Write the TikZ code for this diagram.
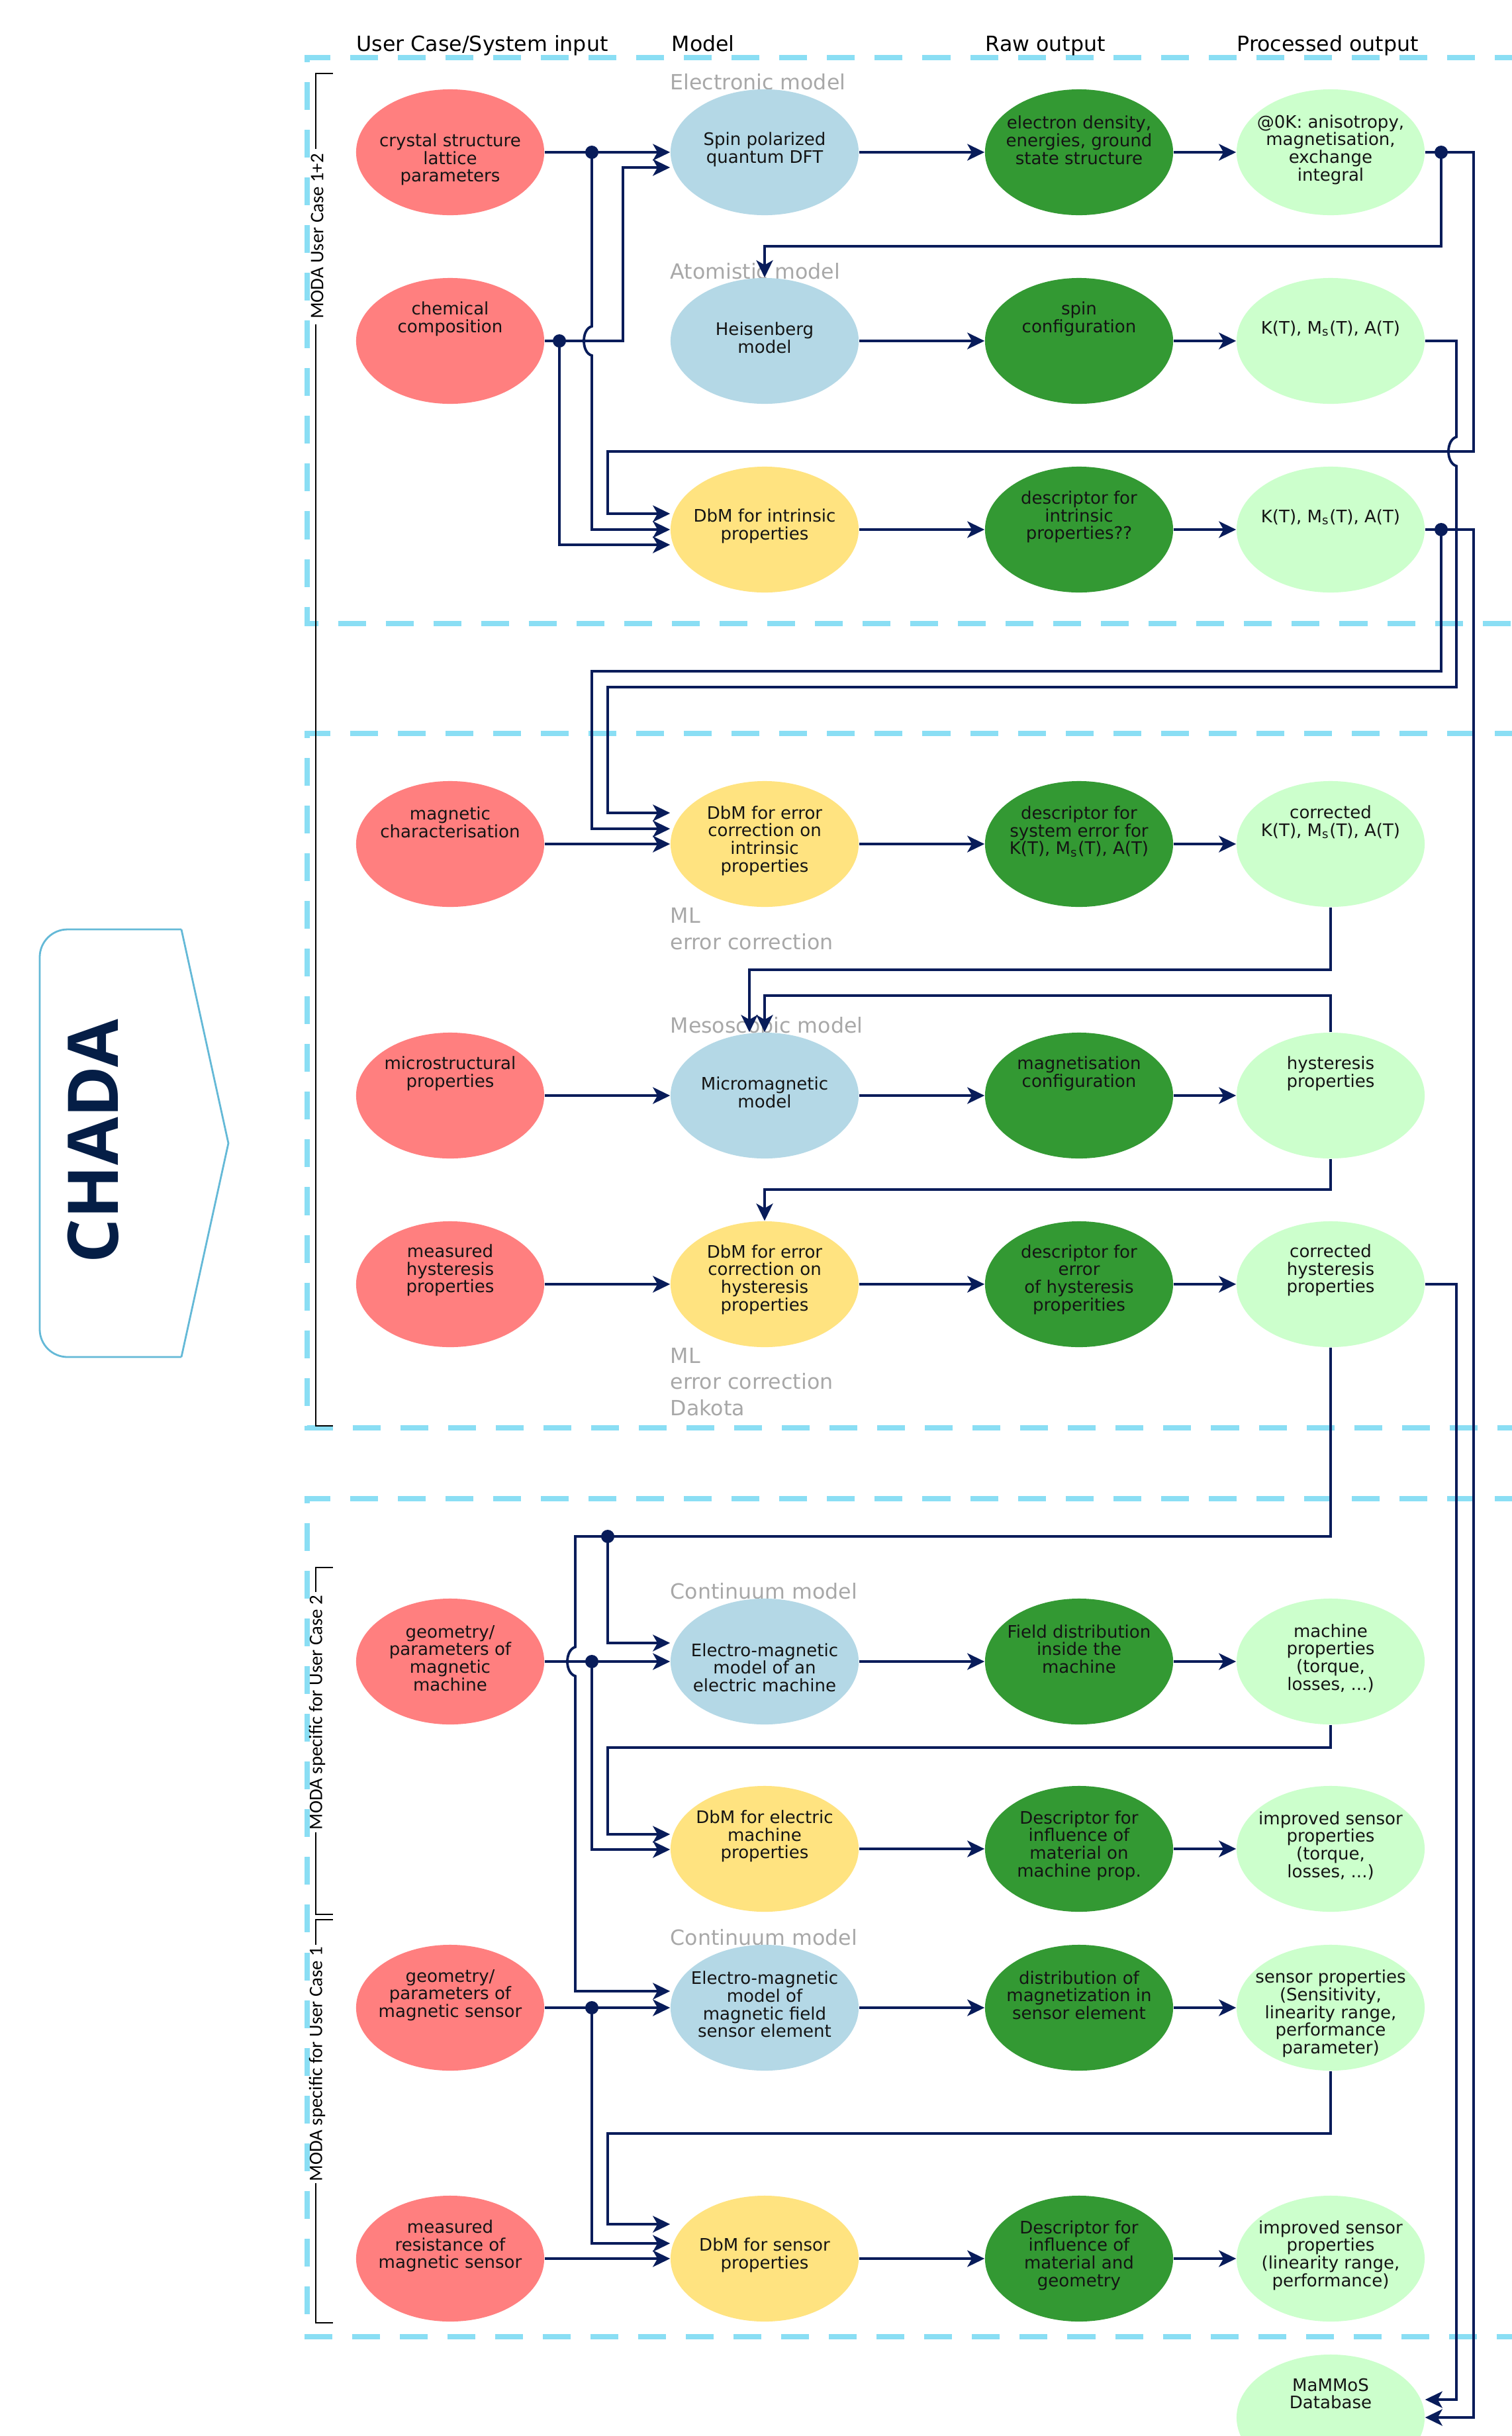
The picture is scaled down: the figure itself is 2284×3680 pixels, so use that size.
\documentclass[tikz,border=0pt]{standalone}
\usepackage{fontspec}
\setmainfont{DejaVu Sans}
\newfontfamily\carlito{Carlito}
\newfontfamily\opensans{Open Sans}
\usetikzlibrary{arrows.meta,shapes.geometric}
\definecolor{cred}{RGB}{255,127,127}
\definecolor{cblue}{RGB}{180,216,230}
\definecolor{cdg}{RGB}{51,153,51}
\definecolor{clg}{RGB}{204,255,204}
\definecolor{cyel}{RGB}{255,227,128}
\definecolor{cnavy}{RGB}{8,28,90}
\definecolor{cdash}{RGB}{138,222,244}
\definecolor{cgray}{RGB}{168,168,168}
\definecolor{ctext}{RGB}{20,20,20}
\definecolor{cchada}{RGB}{5,30,70}
\definecolor{cchadabox}{RGB}{100,185,215}
\newcommand\enode[6]{\node[#2] (#1) at (#3,#4) {}; \node[etext] (#1-t) at (#3,#4#5) {#6};}
\begin{document}
\begin{tikzpicture}[x=0.01cm,y=-0.01cm,
  ebase/.style={ellipse, minimum width=2.84cm, minimum height=1.90cm, inner sep=0pt, draw=none},
  ered/.style={ebase, fill=cred},
  eblue/.style={ebase, fill=cblue},
  edg/.style={ebase, fill=cdg},
  elg/.style={ebase, fill=clg},
  eyel/.style={ebase, fill=cyel},
  etext/.style={align=center, font=\fontsize{7.4pt}{7.6pt}\selectfont, text=ctext, inner sep=0pt},
  conn/.style={draw=cnavy, line width=0.038cm},
  arr/.style={conn, -{Stealth[length=0.26cm, width=0.25cm, inset=0.07cm]}},
  frame/.style={draw=cdash, line width=0.08cm, dash pattern=on 0.42cm off 0.30cm},
  br/.style={draw=black, line width=0.025cm},
  btext/.style={font=\carlito\fontsize{8.2pt}{9pt}\selectfont, rotate=90, inner sep=0pt},
  head/.style={font=\fontsize{9pt}{10pt}\selectfont, anchor=base west, inner sep=0pt},
  glab/.style={font=\fontsize{9pt}{10pt}\selectfont, text=cgray, anchor=base west, inner sep=0pt}
]
\useasboundingbox (0,0) rectangle (2284,3680);
\fill[white] (0,0) rectangle (2284,3680);

% dashed frames
\draw[frame] (2300,87) -- (464,87) -- (464,942) -- (2300,942);
\draw[frame] (2300,1108) -- (464,1108) -- (464,2157) -- (2300,2157);
\draw[frame] (2300,2264) -- (464,2264) -- (464,3530) -- (2300,3530);

% headers
\node[head] (h1) at (538,77) {User Case/System input};
\node[head] (h2) at (1014,77) {Model};
\node[head] (h3) at (1488,77) {Raw output};
\node[head] (h4) at (1868,77) {Processed output};

% brackets
\draw[br] (503,111) -- (477,111) -- (477,225);
\node[btext] (b1) at (479,357) {MODA User Case 1+2};
\draw[br] (477,490) -- (477,2154) -- (503,2154);
\draw[br] (503,2368) -- (477,2368) -- (477,2405);
\node[btext] (b2) at (479,2587) {MODA specific for User Case 2};
\draw[br] (477,2768) -- (477,2892) -- (503,2892);
\draw[br] (503,2900) -- (477,2900) -- (477,2938);
\node[btext] (b3) at (479,3118) {MODA specific for User Case 1};
\draw[br] (477,3298) -- (477,3509) -- (503,3509);

% CHADA
\draw[draw=cchadabox, line width=0.028cm, rounded corners=0.42cm] (274,1404) -- (60,1404) -- (60,2050) -- (274,2050);
\draw[draw=cchadabox, line width=0.028cm] (274,2050) -- (345,1727) -- (274,1404);
\node[rotate=90, font=\opensans\bfseries\fontsize{30pt}{32pt}\selectfont, text=cchada, inner sep=0pt] (chada) at (141,1724) {CHADA};

% gray labels
\node[glab] (l1) at (1012,135) {Electronic model};
\node[glab] (l2) at (1012,421) {Atomistic model};
\node[glab] (l3) at (1012,1394) {ML};
\node[glab] (l4) at (1012,1434) {error correction};
\node[glab] (l5) at (1012,1560) {Mesoscopic model};
\node[glab] (l6) at (1012,2059) {ML};
\node[glab] (l7) at (1012,2098) {error correction};
\node[glab] (l8) at (1012,2138) {Dakota};
\node[glab] (l9) at (1012,2415) {Continuum model};
\node[glab] (l10) at (1012,2938) {Continuum model};

% nodes
\enode{crys}{ered}{680}{230}{+11}{crystal structure\\lattice\\parameters}
\enode{dft}{eblue}{1155}{230}{-4}{Spin polarized\\quantum DFT}
\enode{eden}{edg}{1630}{230}{-18}{electron density,\\energies, ground\\state structure}
\enode{zero}{elg}{2010}{230}{-4}{@0K: anisotropy,\\magnetisation,\\exchange\\integral}

\enode{chem}{ered}{680}{515}{-33}{chemical\\composition}
\enode{heis}{eblue}{1155}{515}{-5}{Heisenberg\\model}
\enode{spin}{edg}{1630}{515}{-33}{spin\\configuration}
\enode{kt2}{elg}{2010}{515}{-19}{K(T), M\textsubscript{s}(T), A(T)}

\enode{dbmi}{eyel}{1155}{800}{-5}{DbM for intrinsic\\properties}
\enode{desci}{edg}{1630}{800}{-19}{descriptor for\\intrinsic\\properties??}
\enode{kt3}{elg}{2010}{800}{-19}{K(T), M\textsubscript{s}(T), A(T)}

\enode{magc}{ered}{680}{1275}{-33}{magnetic\\characterisation}
\enode{dbme}{eyel}{1155}{1275}{-5}{DbM for error\\correction on\\intrinsic\\properties}
\enode{desce}{edg}{1630}{1275}{-19}{descriptor for\\system error for\\K(T), M\textsubscript{s}(T), A(T)}
\enode{corr1}{elg}{2010}{1275}{-33}{corrected\\K(T), M\textsubscript{s}(T), A(T)}

\enode{micstr}{ered}{680}{1655}{-33}{microstructural\\properties}
\enode{micro}{eblue}{1155}{1655}{-5}{Micromagnetic\\model}
\enode{magcfg}{edg}{1630}{1655}{-33}{magnetisation\\configuration}
\enode{hyst}{elg}{2010}{1655}{-33}{hysteresis\\properties}

\enode{mhyst}{ered}{680}{1940}{-21}{measured\\hysteresis\\properties}
\enode{dbmh}{eyel}{1155}{1940}{-7}{DbM for error\\correction on\\hysteresis\\properties}
\enode{desch}{edg}{1630}{1940}{-7}{descriptor for\\error\\of hysteresis\\properities}
\enode{corrh}{elg}{2010}{1940}{-21}{corrected\\hysteresis\\properties}

\enode{geomm}{ered}{680}{2510}{-5}{geometry/\\parameters of\\magnetic\\machine}
\enode{emm}{eblue}{1155}{2510}{+9}{Electro-magnetic\\model of an\\electric machine}
\enode{field}{edg}{1630}{2510}{-19}{Field distribution\\inside the\\machine}
\enode{machp}{elg}{2010}{2510}{-5}{machine\\properties\\(torque,\\losses, ...)}

\enode{dbmm}{eyel}{1155}{2793}{-19}{DbM for electric\\machine\\properties}
\enode{descm}{edg}{1630}{2793}{-5}{Descriptor for\\influence of\\material on\\machine prop.}
\enode{imps1}{elg}{2010}{2793}{-5}{improved sensor\\properties\\(torque,\\losses, ...)}

\enode{geoms}{ered}{680}{3033}{-19}{geometry/\\parameters of\\magnetic sensor}
\enode{ems}{eblue}{1155}{3033}{-5}{Electro-magnetic\\model of\\magnetic field\\sensor element}
\enode{distm}{edg}{1630}{3033}{-19}{distribution of\\magnetization in\\sensor element}
\enode{sensp}{elg}{2010}{3033}{+9}{sensor properties\\(Sensitivity,\\linearity range,\\performance\\parameter)}

\enode{mres}{ered}{680}{3412}{-19}{measured\\resistance of\\magnetic sensor}
\enode{dbms}{eyel}{1155}{3412}{-5}{DbM for sensor\\properties}
\enode{descs}{edg}{1630}{3412}{-5}{Descriptor for\\influence of\\material and\\geometry}
\enode{imps2}{elg}{2010}{3412}{-5}{improved sensor\\properties\\(linearity range,\\performance)}

\enode{db}{elg}{2010}{3652}{-36}{MaMMoS\\Database}

% junction coordinates
\coordinate (J1) at (894,230);
\coordinate (J2) at (845,515);
\coordinate (J3) at (2177,230);
\coordinate (J4) at (2177,800);
\coordinate (J5) at (918,2321);
\coordinate (J6) at (894,2510);
\coordinate (J7) at (894,3033);
\coordinate (d2) at (941,253);
\coordinate (d4) at (845,823);
\coordinate (d6) at (918,776);
\coordinate (d9) at (918,1228);
\coordinate (d11) at (894,1252);
\coordinate (d13) at (1132,1465);
\coordinate (d18) at (2200,3625);
\coordinate (d19) at (869,3008);
\coordinate (d20) at (918,2482);
\coordinate (d21) at (894,2794);
\coordinate (d22) at (918,2771);
\coordinate (d24) at (894,3389);
\coordinate (d25) at (918,3360);

% row chains
\draw[arr] (crys) -- (dft);
\draw[arr] (dft) -- (eden);
\draw[arr] (eden) -- (zero);
\draw[arr] (heis) -- (spin);
\draw[arr] (spin) -- (kt2);
\draw[arr] (dbmi) -- (desci);
\draw[arr] (desci) -- (kt3);
\draw[arr] (magc) -- (dbme);
\draw[arr] (dbme) -- (desce);
\draw[arr] (desce) -- (corr1);
\draw[arr] (micstr) -- (micro);
\draw[arr] (micro) -- (magcfg);
\draw[arr] (magcfg) -- (hyst);
\draw[arr] (mhyst) -- (dbmh);
\draw[arr] (dbmh) -- (desch);
\draw[arr] (desch) -- (corrh);
\draw[arr] (geomm) -- (emm);
\draw[arr] (emm) -- (field);
\draw[arr] (field) -- (machp);
\draw[arr] (dbmm) -- (descm);
\draw[arr] (descm) -- (imps1);
\draw[arr] (geoms) -- (ems);
\draw[arr] (ems) -- (distm);
\draw[arr] (distm) -- (sensp);
\draw[arr] (mres) -- (dbms);
\draw[arr] (dbms) -- (descs);
\draw[arr] (descs) -- (imps2);

% feed connectors
\draw[arr] (J1) -- (894,493) .. controls (878,497) and (878,533) .. (894,537) -- (894,800) -- (dbmi);
\draw[arr] (chem) -- (941,515) -- (d2) -- (d2 -| dft.west);
\draw[arr] (J2) -- (d4) -- (d4 -| dbmi.west);
\draw[arr] (zero) -- (2226,230) -- (2226,682) -- (918,682) -- (d6) -- (d6 -| dbmi.west);
\draw[arr] (J3) -- (2177,372) -- (1155,372) -- (heis);
\draw[arr] (kt2) -- (2200,515) -- (2200,660) .. controls (2184,665) and (2184,699) .. (2200,704) -- (2200,1038) -- (918,1038) -- (d9) -- (d9 -| dbme.west);
\draw[arr] (kt3) -- (2226,800) -- (2226,3652) -- (db);
\draw[arr] (J4) -- (2177,1014) -- (894,1014) -- (d11) -- (d11 -| dbme.west);
\draw[arr] (corr1.south) -- (2010,1465) -- (d13) -- (d13 |- micro.north);
\draw[arr] (hyst.north) -- (2010,1504) -- (1155,1504) -- (micro);
\draw[arr] (hyst.south) -- (2010,1797) -- (1155,1797) -- (dbmh);
\draw[arr] (corrh) -- (2200,1940) -- (d18) -- (d18 -| db.east);
\draw[arr] (corrh.south) -- (2010,2321) -- (869,2321) -- (869,2488) .. controls (853,2493) and (853,2527) .. (869,2532) -- (d19) -- (d19 -| ems.west);
\draw[arr] (J5) -- (d20) -- (d20 -| emm.west);
\draw[arr] (J6) -- (d21) -- (d21 -| dbmm.west);
\draw[arr] (machp.south) -- (2010,2640) -- (918,2640) -- (d22) -- (d22 -| dbmm.west);
\draw[arr] (J7) -- (d24) -- (d24 -| dbms.west);
\draw[arr] (sensp.south) -- (2010,3223) -- (918,3223) -- (d25) -- (d25 -| dbms.west);

% junction dots
\foreach \j in {J1,J2,J3,J4,J5,J6,J7} \fill[cnavy] (\j) circle (0.1cm);
\end{tikzpicture}
\end{document}
